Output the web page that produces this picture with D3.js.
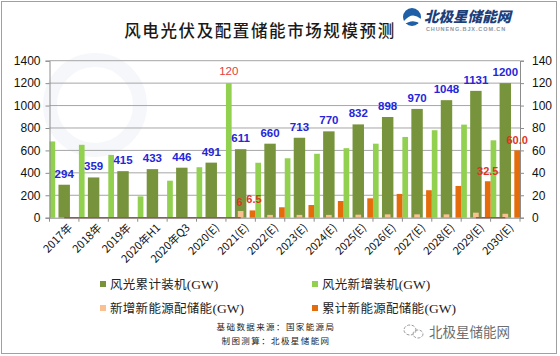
<!DOCTYPE html>
<html><head><meta charset="utf-8">
<script src="https://cdn.jsdelivr.net/npm/d3@7"></script>
<style>
html,body{margin:0;padding:0;background:#fff;}
svg{display:block;}
text{font-family:"Liberation Sans",Arial,sans-serif;}
.cjk{font-family:"Noto Sans CJK SC","Noto Sans",sans-serif;}
</style></head>
<body>
<svg id="c" width="560" height="356"></svg>
<script>
const categories = ["2017年","2018年","2019年","2020年H1","2020年Q3","2020(E)","2021(E)","2022(E)","2023(E)","2024(E)","2025(E)","2026(E)","2027(E)","2028(E)","2029(E)","2030(E)"];
const cumWindSolar = [294,359,415,433,446,491,611,660,713,770,832,898,970,1048,1131,1200];
const newWindSolar = [68,65,56,19,33,45,120,49,53,57,62,66,72,78,83,69];
const newStorage = [0,0,0,0,0,0,6,2.5,2.5,2.5,2.7,3,3,3,4.5,3.5];
const cumStorage = [0,0,0,0,0,0,6.5,9.3,11.3,14.9,17.3,21.2,24.5,28.3,32.5,60.0];
const zeroLine = [0,0,0,0,0,0,0,null,null,null,null,null,null,null,0,0];
const leftTicks = [0,200,400,600,800,1000,1200,1400];
const rightTicks = [0,20,40,60,80,100,120,140];
const labelNewWindSolar = [6];
const labelNewStorage = [6];
const labelCumStorage = [6,14,15];
const legendItems = ["风光累计装机","风光新增装机","新增新能源配储能","累计新能源配储能"];

const colors = {cum:"#77933c", neu:"#92d050", ns:"#fac090", cs:"#e46c0a"};
const svg = d3.select("#c");
svg.append("rect").attr("width",560).attr("height",356).attr("fill","#fff");
svg.append("rect").attr("x",1.5).attr("y",1.5).attr("width",555).attr("height",352)
  .attr("fill","none").attr("stroke","#a0a0a0");

const L=49.5, R=520, T=60.7, B=217.7;
const x = d3.scaleBand().domain(categories).range([L,R]).padding(0);
const bw = x.bandwidth();
const yL = d3.scaleLinear().domain([0,1400]).range([B,T]);
const yR = d3.scaleLinear().domain([0,140]).range([B,T]);
const xPrim = d3.scaleBand().domain(["cum"]).range([0,bw]).padding(0.44);
const xSec = d3.scaleBand().domain(["neu","ns","cs"]).range([0,bw]).paddingInner(0.52).paddingOuter(0);

// faint watermark emblem
const wm = svg.append("g").attr("opacity",0.35);
wm.append("circle").attr("cx",95).attr("cy",105).attr("r",45).attr("fill","none").attr("stroke","#e3e9f1").attr("stroke-width",14);

// grid
svg.append("g").selectAll("line").data(leftTicks.slice(1)).join("line")
  .attr("x1",L).attr("x2",R).attr("y1",d=>yL(d)).attr("y2",d=>yL(d))
  .attr("stroke","#a6a6a6").attr("stroke-width",1);

// primary bars
svg.append("g").selectAll("rect").data(cumWindSolar).join("rect")
  .attr("x",(d,i)=>x(categories[i])+xPrim("cum")).attr("width",xPrim.bandwidth())
  .attr("y",d=>yL(d)).attr("height",d=>B-yL(d)).attr("fill",colors.cum);

// secondary bars
const sec = [["neu",newWindSolar],["ns",newStorage],["cs",cumStorage]];
sec.forEach(([k,arr])=>{
  svg.append("g").selectAll("rect").data(arr).join("rect")
    .attr("x",(d,i)=>x(categories[i])+xSec(k)).attr("width",xSec.bandwidth())
    .attr("y",d=>yR(d)).attr("height",d=>B-yR(d)).attr("fill",colors[k]);
});

// zero line
const line = d3.line().defined(d=>d!==null).x((d,i)=>x(categories[i])+bw/2).y(d=>yR(d));
svg.append("path").datum(zeroLine).attr("d",line).attr("fill","none").attr("stroke","#b23a2e").attr("stroke-width",1.6);

// axes
const axL = d3.axisLeft(yL).tickValues(leftTicks).tickFormat(d3.format("d")).tickSize(4).tickPadding(5);
const gL = svg.append("g").attr("transform",`translate(${L},0)`).call(axL);
const axR = d3.axisRight(yR).tickValues(rightTicks).tickFormat(d3.format("d")).tickSize(4).tickPadding(8);
const gR = svg.append("g").attr("transform",`translate(${R},0)`).call(axR);
[gL,gR].forEach(g=>{
  g.select(".domain").attr("stroke","#8c8c8c");
  g.selectAll(".tick line").attr("stroke","#8c8c8c");
  g.selectAll(".tick text").attr("font-size",12).attr("fill","#111").attr("font-family","Liberation Sans, Arial, sans-serif");
});
const axB = d3.axisBottom(x).tickSize(0).tickFormat("");
const gB = svg.append("g").attr("transform",`translate(0,${B})`).call(axB);
gB.select(".domain").attr("stroke","#8c8c8c");
gB.selectAll(".tick").remove();
svg.append("g").selectAll("line").data(categories.concat([null])).join("line")
  .attr("x1",(d,i)=>i<categories.length?x(d):R).attr("x2",(d,i)=>i<categories.length?x(d):R)
  .attr("y1",B).attr("y2",B+4).attr("stroke","#8c8c8c");
svg.append("g").selectAll("text").data(categories).join("text")
  .attr("class","cjk")
  .attr("transform",d=>`translate(${x(d)+bw/2+6},${B+8}) rotate(-45)`)
  .attr("text-anchor","end").attr("dy","0.35em").attr("font-size",11).attr("fill","#111")
  .text(d=>d);

// data labels
svg.append("g").selectAll("text").data(cumWindSolar).join("text")
  .attr("x",(d,i)=>x(categories[i])+bw/2).attr("y",d=>yL(d)-7)
  .attr("text-anchor","middle").attr("font-size",11.5).attr("font-weight","bold").attr("fill","#2626d9")
  .text(d=>d);
svg.append("g").selectAll("text").data(labelNewWindSolar).join("text")
  .attr("x",i=>x(categories[i])+xSec("neu")+xSec.bandwidth()/2).attr("y",i=>yR(newWindSolar[i])-8)
  .attr("text-anchor","middle").attr("font-size",11.5).attr("fill","#e5403a")
  .text(i=>newWindSolar[i]);
svg.append("g").selectAll("text").data(labelNewStorage).join("text")
  .attr("x",i=>x(categories[i])+xSec("ns")+xSec.bandwidth()/2-1).attr("y",i=>yR(newStorage[i])-4.5)
  .attr("text-anchor","middle").attr("font-size",11).attr("font-weight","bold").attr("fill","#e0341f")
  .text(i=>newStorage[i]);
svg.append("g").selectAll("text").data(labelCumStorage).join("text")
  .attr("x",i=>x(categories[i])+xSec("cs")+xSec.bandwidth()/2+(i===6?1.5:0)).attr("y",i=>yR(cumStorage[i])-(i===6?7.5:6))
  .attr("text-anchor","middle").attr("font-size",11).attr("font-weight","bold").attr("fill","#e0341f")
  .text(i=>i===15?cumStorage[i].toFixed(1):cumStorage[i]);

// title
svg.append("text").attr("class","cjk").attr("x",260).attr("y",37).attr("text-anchor","middle")
  .attr("font-size",16.5).attr("font-weight",500).attr("letter-spacing",1.6).attr("fill","#1a1a1a")
  .text("风电光伏及配置储能市场规模预测");

// logo
const lg = svg.append("g");
lg.append("circle").attr("cx",412).attr("cy",17).attr("r",9).attr("fill","#1f5fa8");
lg.append("path").attr("d","M404,21 Q412,11 421,19 L421,24 Q412,18 404,25 Z").attr("fill","#fff");
lg.append("text").attr("class","cjk").attr("x",424).attr("y",22).attr("font-size",14.5).attr("font-weight",900)
  .attr("font-style","italic").attr("fill","#1d3f7a").text("北极星储能网");
lg.append("text").attr("x",426).attr("y",31).attr("font-size",5.5).attr("font-weight","bold").attr("letter-spacing",0.9)
  .attr("fill","#8a96a8").text("CHUNENG.BJX.COM.CN");

// legend
const legPos = [[100,285],[312,285],[100,309],[312,309]];
const legCol = [colors.cum,colors.neu,colors.ns,colors.cs];
legendItems.forEach((t,i)=>{
  const [lx,ly]=legPos[i];
  svg.append("rect").attr("x",lx).attr("y",ly-4).attr("width",6).attr("height",6).attr("fill",legCol[i]);
  const tx = svg.append("text").attr("x",lx+10).attr("y",ly+4).attr("fill","#222");
  tx.append("tspan").attr("class","cjk").attr("font-size",12.5).attr("letter-spacing",0.3).text(t);
  tx.append("tspan").attr("font-family","Liberation Serif, Times New Roman, serif").attr("font-size",13.5).text("(GW)");
});

// footer
svg.append("text").attr("class","cjk").attr("x",276).attr("y",330).attr("text-anchor","middle")
  .attr("font-size",8.5).attr("letter-spacing",1.4).attr("fill","#222").text("基础数据来源：国家能源局");
svg.append("text").attr("class","cjk").attr("x",276).attr("y",344).attr("text-anchor","middle")
  .attr("font-size",8.5).attr("letter-spacing",1.4).attr("fill","#222").text("制图测算：北极星储能网");

// wechat mark
const wc = svg.append("g").attr("fill","none").attr("stroke","#9a9a9a").attr("stroke-width",1);
wc.append("ellipse").attr("cx",410).attr("cy",330).attr("rx",6).attr("ry",5).attr("stroke-dasharray","3,1.5");
wc.append("ellipse").attr("cx",418).attr("cy",334).attr("rx",5).attr("ry",4).attr("stroke-dasharray","3,1.5");
svg.append("text").attr("class","cjk").attr("x",429).attr("y",337).attr("font-size",13.5).attr("fill","#6e6e6e").text("北极星储能网");
</script>
</body></html>
